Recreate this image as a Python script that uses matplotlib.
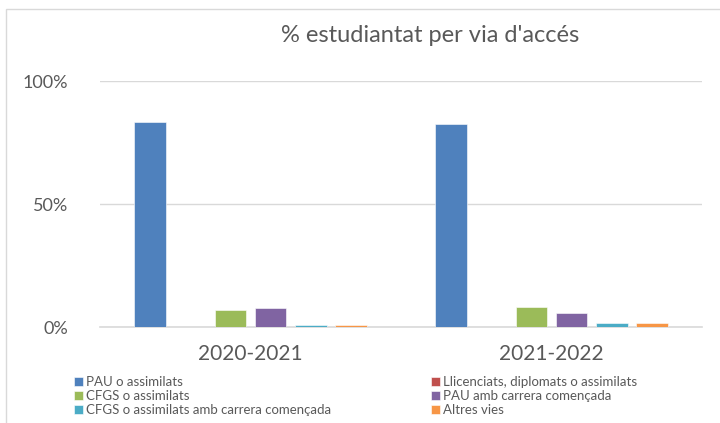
import matplotlib.pyplot as plt
import numpy as np
from matplotlib.patches import Rectangle

plt.rcParams['font.family'] = ['Lato', 'DejaVu Sans']

# dades llegides del grafic (%)
cursos = ['2020-2021', '2021-2022']
vies = ['PAU o assimilats', 'Llicenciats, diplomats o assimilats', 'CFGS o assimilats',
        'PAU amb carrera començada', 'CFGS o assimilats amb carrera començada', 'Altres vies']
pau = [83.2, 82.5]
llicenciats = [0.0, 0.0]
cfgs = [6.8, 8.2]
pau_carrera = [7.9, 5.7]
cfgs_carrera = [0.8, 1.5]
altres = [0.7, 1.5]
colors = ['#4F81BD', '#C0504D', '#9BBB59', '#8064A2', '#4BACC6', '#F79646']

series = [pau, llicenciats, cfgs, pau_carrera, cfgs_carrera, altres]

fig = plt.figure(figsize=(7.2, 4.23), dpi=100)
ax = fig.add_axes([100/720, 1-327/423, 602/720, 246/423])

x = np.arange(len(cursos))
slot = 0.133
bars = []
for i, (vals, col) in enumerate(zip(series, colors)):
    b = ax.bar(x + (i - 2.5)*slot, vals, width=0.106, color=col,
               edgecolor='white', linewidth=0.4, zorder=3)
    bars.append(b)

ax.set_xlim(-0.5, 1.5)
ax.set_ylim(0, 100)
ax.set_yticks([0, 50, 100])
ax.set_yticklabels(['0%', '50%', '100%'])
ax.set_xticks(x)
ax.set_xticklabels(cursos)
ax.yaxis.grid(True, color='#D9D9D9', linewidth=1)
ax.set_axisbelow(True)
for s in ['top', 'right', 'left']:
    ax.spines[s].set_visible(False)
ax.spines['bottom'].set_color('#D9D9D9')
ax.spines['bottom'].set_linewidth(1.2)
ax.tick_params(axis='y', length=0, labelsize=13, labelcolor='#595959', pad=23)
ax.tick_params(axis='x', length=0, labelsize=15, labelcolor='#595959', pad=12)

fig.text(430/720, 1-36/423, "% estudiantat per via d'accés", ha='center', va='center',
         fontsize=17, color='#595959')

# marc del grafic
fig.patches.append(Rectangle((6/720, -0.1), 1.2, 1-9.5/423+0.1, transform=fig.transFigure,
                             fill=False, edgecolor='#D9D9D9', linewidth=1))

leg_kw = dict(frameon=False, fontsize=9.5, labelspacing=0.15, handlelength=0.7,
              handleheight=0.7, handletextpad=0.2, borderpad=0, borderaxespad=0,
              labelcolor='#595959')
leg1 = fig.legend([bars[0], bars[2], bars[4]], [vies[0], vies[2], vies[4]],
                  loc='upper left', bbox_to_anchor=(74/720, 1-376/423), **leg_kw)
leg2 = fig.legend([bars[1], bars[3], bars[5]], [vies[1], vies[3], vies[5]],
                  loc='upper left', bbox_to_anchor=(431/720, 1-376/423), **leg_kw)

fig.savefig('out.png', dpi=100)
